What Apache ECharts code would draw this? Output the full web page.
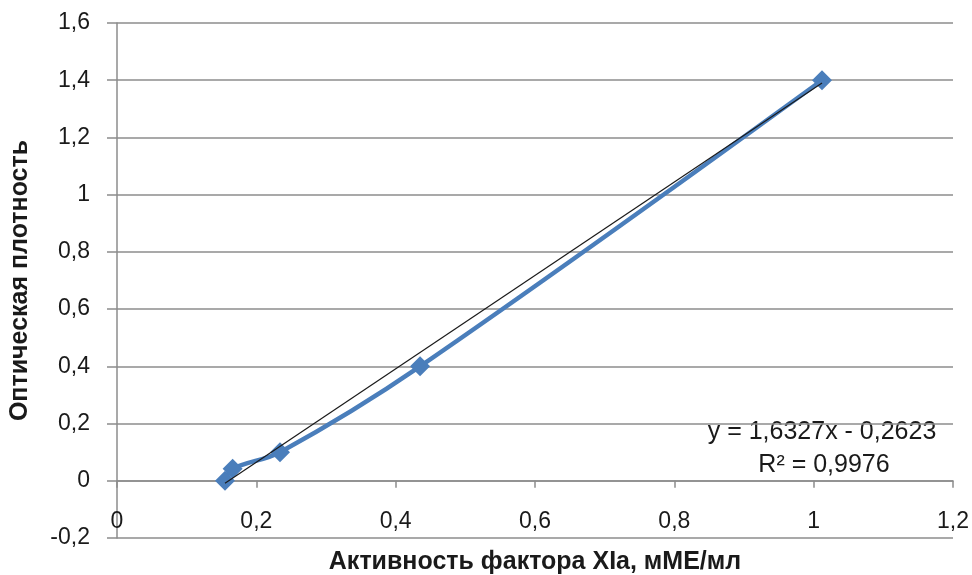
<!DOCTYPE html>
<html>
<head>
<meta charset="utf-8">
<script src="https://cdn.jsdelivr.net/npm/echarts@6/dist/echarts.min.js"></script>
<style>html,body{margin:0;padding:0;background:#fff}#c{width:972px;height:575px}</style>
</head>
<body>
<div id="c"></div>
<script>
// Data
const activity = [0.155, 0.166, 0.234, 0.435, 1.012];   // x: Активность фактора XIa, мМЕ/мл
const density  = [0.0,   0.042, 0.10,  0.40,  1.40];    // y: Оптическая плотность
const trendX = [0.155, 1.012];
const trendY = [-0.009, 1.390];
const xTicks = { min: 0, max: 1.2, interval: 0.2 };
const yTicks = { min: -0.2, max: 1.6, interval: 0.2 };
const equationText = 'y = 1,6327x - 0,2623';
const r2Text = 'R² = 0,9976';
const xTitle = 'Активность фактора XIa, мМЕ/мл';
const yTitle = 'Оптическая плотность';

const FONT = 'Liberation Sans';
const fmt = v => { const r = Math.round(v * 10) / 10; return String(r).replace('.', ','); };

const chart = echarts.init(document.getElementById('c'), null, { renderer: 'canvas' });
chart.setOption({
  animation: false,
  backgroundColor: '#fff',
  grid: { left: 117, right: 19, top: 23, bottom: 37, containLabel: false, outerBoundsMode: 'none' },
  xAxis: {
    type: 'value', min: xTicks.min, max: xTicks.max, interval: xTicks.interval,
    axisLine: { show: true, onZero: true, lineStyle: { color: '#8c8c8c', width: 1.5 } },
    axisTick: { show: true, inside: false, length: 7, lineStyle: { color: '#8c8c8c', width: 1.5 } },
    axisLabel: { formatter: fmt, color: '#1a1a1a', fontFamily: FONT, fontSize: 23, margin: -28 },
    splitLine: { show: false },
    name: xTitle, nameLocation: 'middle', nameGap: 12, nameMoveOverlap: false,
    nameTextStyle: { fontFamily: FONT, fontWeight: 'bold', fontSize: 25, color: '#1a1a1a' }
  },
  yAxis: {
    type: 'value', min: yTicks.min, max: yTicks.max, interval: yTicks.interval,
    axisLine: { show: true, onZero: true, lineStyle: { color: '#8c8c8c', width: 1.5 } },
    axisTick: { show: true, inside: false, length: 10, lineStyle: { color: '#8c8c8c', width: 1.5 } },
    axisLabel: { formatter: fmt, color: '#1a1a1a', fontFamily: FONT, fontSize: 23, margin: 27 },
    splitLine: { show: true, lineStyle: { color: '#8c8c8c', width: 1.5 } },
    name: yTitle, nameLocation: 'middle', nameGap: 84, nameRotate: 90,
    nameTextStyle: { fontFamily: FONT, fontWeight: 'bold', fontSize: 25, color: '#1a1a1a' }
  },
  series: [
    {
      type: 'line', data: activity.map((x, i) => [x, density[i]]),
      smooth: 0.35,
      lineStyle: { color: '#4a7ebb', width: 4.5 },
      itemStyle: { color: '#4a7ebb' },
      symbol: 'diamond', symbolSize: 20, z: 2
    },
    {
      type: 'line', data: trendX.map((x, i) => [x, trendY[i]]),
      showSymbol: false, symbol: 'none',
      lineStyle: { color: '#1a1a1a', width: 1.2 }, z: 3
    }
  ],
  graphic: [
    { type: 'text', x: 822, y: 432, style: { text: equationText, fontFamily: FONT, fontSize: 25, fill: '#1a1a1a', align: 'center', verticalAlign: 'middle' } },
    { type: 'text', x: 824, y: 465, style: { text: r2Text, fontFamily: FONT, fontSize: 25, fill: '#1a1a1a', align: 'center', verticalAlign: 'middle' } }
  ]
});
</script>
</body>
</html>
